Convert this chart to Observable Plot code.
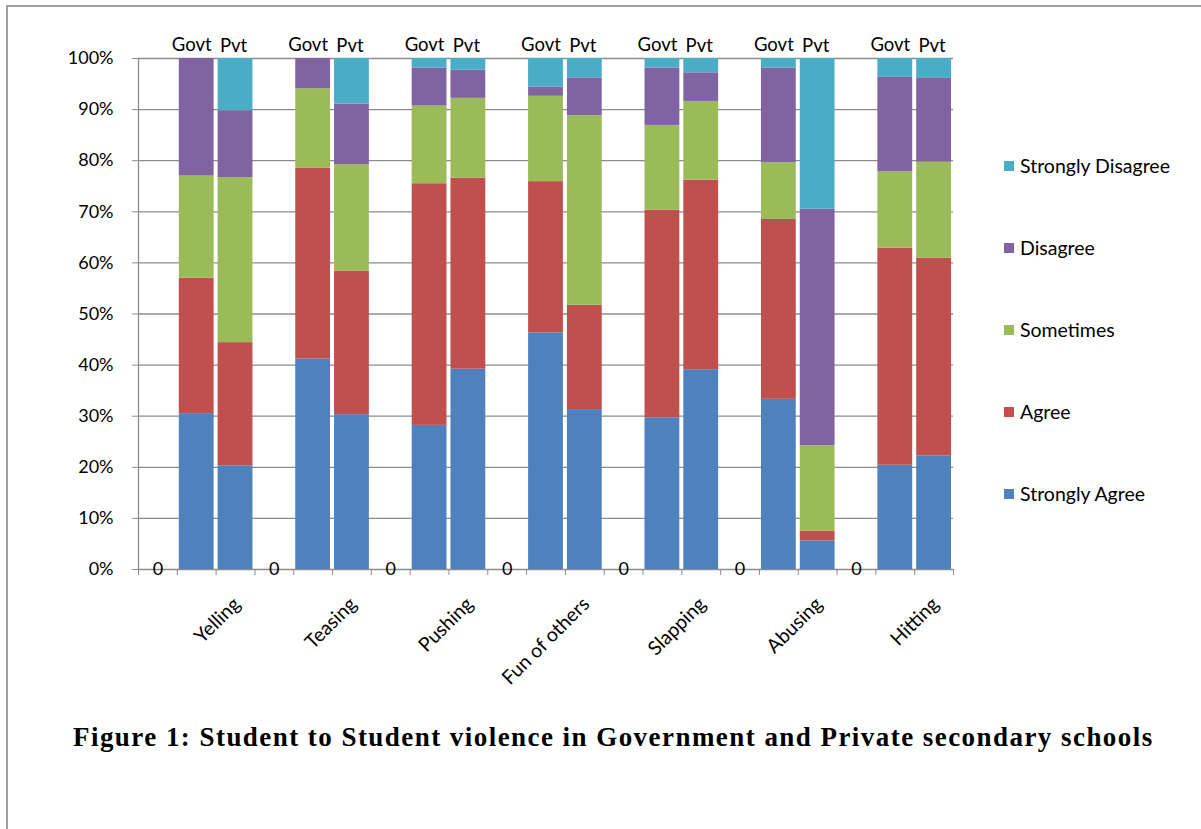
<!DOCTYPE html>
<html><head><meta charset="utf-8">
<script src="https://cdn.jsdelivr.net/npm/d3@7"></script>
<script src="https://cdn.jsdelivr.net/npm/@observablehq/plot@0.6"></script>
<style>
body{margin:0;background:#fff;font-family:Lato,"Open Sans",sans-serif;}
#page{position:relative;width:1201px;height:829px;overflow:hidden;background:#fff;}
#frame{position:absolute;left:6px;top:5px;width:1300px;height:900px;border-top:2px solid #a0a0a0;border-left:2px solid #a0a0a0;}
#chart{position:absolute;left:0;top:0;}
#legend{position:absolute;left:1004px;top:0;}
.li{position:absolute;left:0;white-space:nowrap;font-size:19.5px;line-height:22px;display:flex;align-items:center;color:#000;}
.sw{width:10px;height:10px;margin-right:6px;display:inline-block;}
#caption{position:absolute;left:73px;top:722px;white-space:nowrap;font-family:"Liberation Serif","Times New Roman",serif;font-weight:bold;font-size:27px;letter-spacing:1.45px;color:#000;}
</style></head>
<body>
<div id="page">
<div id="frame"></div>
<div id="chart"></div>
<div id="legend"></div>
<div id="caption">Figure 1: Student to Student violence in Government and Private secondary schools</div>
</div>
<script>
const categories = ["Yelling","Teasing","Pushing","Fun of others","Slapping","Abusing","Hitting"];
const schools = ["Govt","Pvt"];
const responses = ["Strongly Agree","Agree","Sometimes","Disagree","Strongly Disagree"];
const colors = ["#4F81BD","#C0504D","#9BBB59","#8064A2","#4BACC6"];
const yTicks = [0,10,20,30,40,50,60,70,80,90,100];

// Govt percentages per category
const govtStronglyAgree    = [30.5,41.2,28.2,46.3,29.7,33.3,20.4];
const govtAgree            = [26.5,37.3,47.3,29.6,40.6,35.2,42.5];
const govtSometimes        = [20.0,15.6,15.2,16.7,16.6,11.1,14.9];
const govtDisagree         = [23.0, 5.9, 7.4, 1.8,11.2,18.5,18.5];
const govtStronglyDisagree = [ 0.0, 0.0, 1.9, 5.6, 1.9, 1.9, 3.7];
// Pvt percentages per category
const pvtStronglyAgree     = [20.3,30.3,39.2,31.3,39.1, 5.6,22.2];
const pvtAgree             = [24.1,28.1,37.4,20.4,37.1, 1.9,38.7];
const pvtSometimes         = [32.3,20.8,15.6,37.1,15.4,16.7,18.8];
const pvtDisagree          = [13.1,11.9, 5.5, 7.4, 5.6,46.3,16.4];
const pvtStronglyDisagree  = [10.2, 8.9, 2.3, 3.8, 2.8,29.5, 3.9];
// empty spacer series (shows "0" labels)
const spacerValues = [0,0,0,0,0,0,0];

const seriesBySchool = {
  Govt: [govtStronglyAgree, govtAgree, govtSometimes, govtDisagree, govtStronglyDisagree],
  Pvt:  [pvtStronglyAgree, pvtAgree, pvtSometimes, pvtDisagree, pvtStronglyDisagree]
};

const rows = [];
const schoolLabels = [];
categories.forEach((cat, i) => {
  schools.forEach((school, j) => {
    const slot = 3 * i + 1 + j;
    schoolLabels.push({slot, school});
    let acc = 0;
    responses.forEach((r, k) => {
      const v = seriesBySchool[school][k][i];
      rows.push({cat, school, slot, response: r, y1: acc, y2: acc + v});
      acc += v;
    });
  });
});
const zeros = categories.map((c, i) => ({slot: 3 * i, value: spacerValues[i]}));

const chart = Plot.plot({
  width: 1201, height: 720,
  marginLeft: 138, marginRight: 248, marginTop: 58, marginBottom: 151,
  x: {domain: [0, 21], axis: null},
  y: {domain: [0, 100], axis: null},
  color: {domain: responses, range: colors},
  style: {fontFamily: "Lato, 'Open Sans', sans-serif", fontSize: "18px", color: "#000", background: "transparent", overflow: "visible"},
  marks: [
    Plot.ruleY(yTicks, {stroke: "#8c8c8c", strokeWidth: 1.3}),
    Plot.ruleX([0], {stroke: "#8c8c8c", strokeWidth: 1.3}),
    Plot.axisY({ticks: yTicks, tickSize: 6, tickPadding: 19, tickFormat: d => d + "%", stroke: "#8c8c8c", fontSize: 18, label: null}),
    Plot.axisX({ticks: d3.range(0, 22), tickSize: 6, tickFormat: () => "", stroke: "#8c8c8c", label: null}),
    Plot.rect(rows, {x1: "slot", x2: d => d.slot + 1, y1: "y1", y2: "y2", fill: "response", insetLeft: 2, insetRight: 2}),
    Plot.text(zeros, {x: d => d.slot + 0.5, y: "value", text: d => String(d.value), fontSize: 18, fill: "#000"}),
    Plot.text(schoolLabels.filter(d => d.school === "Govt"), {x: d => d.slot + 0.5, y: 100, text: "school", dx: -5, dy: -13, fontSize: 18.5, fill: "#000"}),
    Plot.text(schoolLabels.filter(d => d.school === "Pvt"), {x: d => d.slot + 0.5, y: 100, text: "school", dx: -2, dy: -12, fontSize: 18.5, fill: "#000"}),
    Plot.text(categories, {x: (d, i) => 3 * i + 2.5, y: 0, text: d => d, rotate: -45, textAnchor: "end", lineAnchor: "top", dx: -4, dy: 26, fontSize: 19.5, fill: "#000"})
  ]
});
document.getElementById("chart").appendChild(chart);

// legend
const legendCenters = [494, 412, 330, 248, 166];
const legend = document.getElementById("legend");
responses.forEach((r, k) => {
  const div = document.createElement("div");
  div.className = "li";
  div.style.top = (legendCenters[k] - 11) + "px";
  div.innerHTML = `<span class="sw" style="background:${colors[k]}"></span>${r}`;
  legend.appendChild(div);
});
</script>
</body></html>
